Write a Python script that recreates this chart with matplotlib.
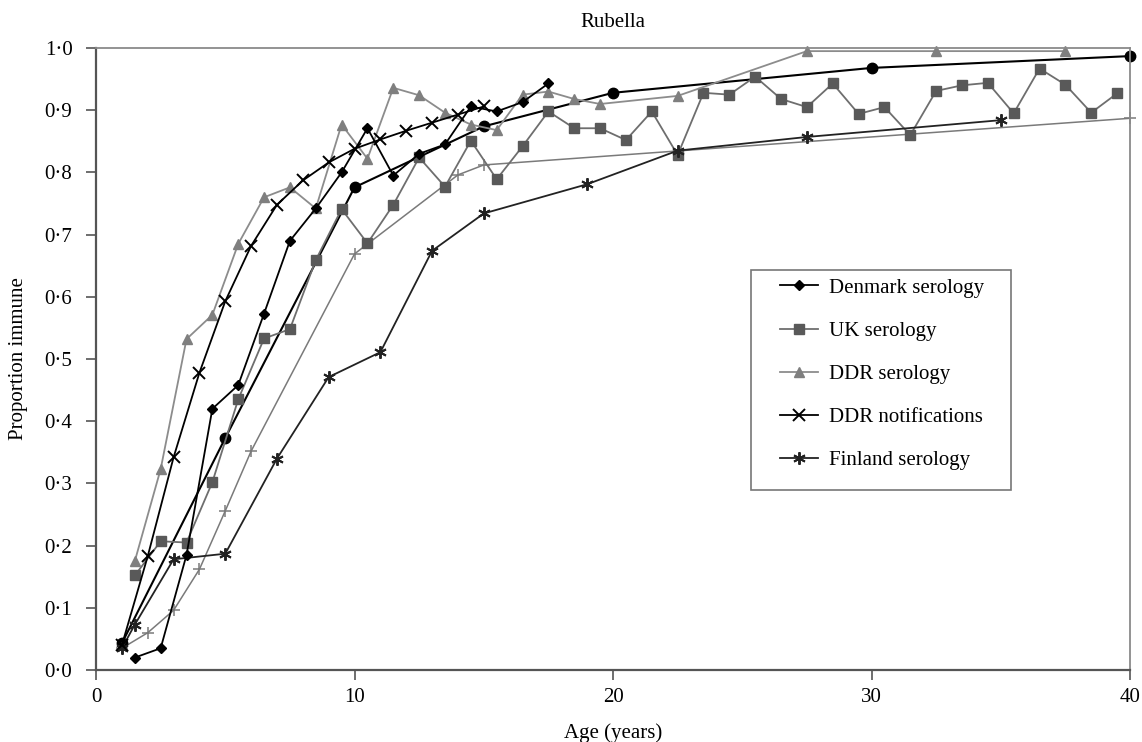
import matplotlib.pyplot as plt
from matplotlib.patches import Rectangle
from matplotlib.ticker import FuncFormatter

plt.rcParams['font.family'] = ['Liberation Serif', 'DejaVu Serif']

# age (years) and proportion immune
denmark_age = [1.5, 2.5, 3.5, 4.5, 5.5, 6.5, 7.5, 8.5, 9.5, 10.5, 11.5, 12.5,
               13.5, 14.5, 15.5, 16.5, 17.5]
denmark = [0.02, 0.035, 0.185, 0.42, 0.458, 0.573, 0.69, 0.742, 0.80, 0.871,
           0.795, 0.83, 0.845, 0.906, 0.898, 0.913, 0.943]

uk_age = [a + 0.5 for a in range(1, 40)]
uk = [0.152, 0.207, 0.205, 0.302, 0.435, 0.533, 0.548, 0.659, 0.741, 0.686,
      0.748, 0.824, 0.777, 0.851, 0.789, 0.842, 0.898, 0.871, 0.871, 0.852,
      0.898, 0.828, 0.928, 0.925, 0.954, 0.918, 0.905, 0.943, 0.894, 0.905,
      0.860, 0.931, 0.940, 0.944, 0.895, 0.967, 0.941, 0.896, 0.927]

ddr_sero_age = [1.5, 2.5, 3.5, 4.5, 5.5, 6.5, 7.5, 8.5, 9.5, 10.5, 11.5, 12.5,
                13.5, 14.5, 15.5, 16.5, 17.5, 18.5, 19.5, 22.5, 27.5, 32.5, 37.5]
ddr_sero = [0.175, 0.323, 0.532, 0.571, 0.685, 0.76, 0.776, 0.742, 0.877,
            0.822, 0.936, 0.924, 0.896, 0.877, 0.868, 0.925, 0.93, 0.918,
            0.91, 0.923, 0.995, 0.995, 0.995]

ddr_notif_age = list(range(1, 16))
ddr_notif = [0.04, 0.183, 0.342, 0.478, 0.593, 0.682, 0.748, 0.787, 0.816,
             0.838, 0.853, 0.867, 0.88, 0.893, 0.906]

finland_age = [1, 1.5, 3, 5, 7, 9, 11, 13, 15, 19, 22.5, 27.5, 35]
finland = [0.035, 0.073, 0.178, 0.187, 0.34, 0.471, 0.511, 0.674, 0.734,
           0.781, 0.835, 0.857, 0.884]

# unlabelled series in the original
circle_age = [1, 5, 10, 15, 20, 30, 40]
circle_vals = [0.043, 0.373, 0.776, 0.874, 0.928, 0.968, 0.987]

plus_age = [1, 2, 3, 4, 5, 6, 10, 14, 15, 40]
plus_vals = [0.035, 0.06, 0.096, 0.162, 0.256, 0.352, 0.669, 0.796, 0.812, 0.887]

fig = plt.figure(figsize=(11.42, 7.42), dpi=100)
ax = fig.add_axes([0.0841, 0.0970, 0.9054, 0.8383])

lw = 1.3
ax.plot(plus_age, plus_vals, '-', color='#7a7a7a', lw=1.1, marker='+',
        ms=9, mew=1.1, clip_on=False)
ax.plot(circle_age, circle_vals, '-', color='black', lw=1.5, marker='o',
        ms=7.5, clip_on=False)
ax.plot(uk_age, uk, '-', color='#6e6e6e', lw=lw, marker='s', ms=7,
        mfc='#595959', mec='#595959', label='UK serology', clip_on=False)
ax.plot(ddr_sero_age, ddr_sero, '-', color='#8c8c8c', lw=lw, marker='^',
        ms=7, mfc='#7f7f7f', mec='#7f7f7f', label='DDR serology', clip_on=False)
ax.plot(finland_age, finland, '-', color='#222222', lw=lw, marker=(6, 2, 0),
        ms=9, mew=1.4, mec='#222222', label='Finland serology', clip_on=False)
ax.plot(ddr_notif_age, ddr_notif, '-', color='black', lw=lw, marker='x',
        ms=8, mew=1.4, label='DDR notifications', clip_on=False)
ax.plot(denmark_age, denmark, '-', color='black', lw=lw, marker='D',
        ms=5.5, label='Denmark serology', clip_on=False)

ax.set_xlim(0, 40)
ax.set_ylim(0, 1)
ax.set_xticks([0, 10, 20, 30, 40])
ax.set_yticks([i / 10 for i in range(11)])
ax.yaxis.set_major_formatter(FuncFormatter(lambda v, p: f"{v:.1f}".replace('.', '\u00b7')))
ax.tick_params(direction='out', length=7, width=1.2, color='#555555',
               labelsize=15, pad=6)
ax.tick_params(axis='y', pad=10)

for side in ['left', 'bottom']:
    ax.spines[side].set_color('#555555')
    ax.spines[side].set_linewidth(1.6)
for side in ['top', 'right']:
    ax.spines[side].set_color('#8a8a8a')
    ax.spines[side].set_linewidth(1.3)

ax.set_title('Rubella', fontsize=15, pad=15)
ax.set_xlabel('Age (years)', fontsize=15, labelpad=12)
ax.set_ylabel('Proportion immune', fontsize=15, labelpad=12)

# legend: box drawn separately, entries without frame
box = Rectangle((0.6335, 0.289), 0.2515, 0.354, transform=ax.transAxes,
                fill=True, facecolor='white', edgecolor='#777777', lw=1.2,
                zorder=5)
ax.add_patch(box)
h, l = ax.get_legend_handles_labels()
order = ['Denmark serology', 'UK serology', 'DDR serology',
         'DDR notifications', 'Finland serology']
hl = dict(zip(l, h))
leg = ax.legend([hl[k] for k in order], order, loc='upper left',
                bbox_to_anchor=(0.6615, 0.630), borderaxespad=0, borderpad=0,
                frameon=False, fontsize=15, handlelength=1.83,
                handletextpad=0.53, labelspacing=1.13, numpoints=1)
leg.set_zorder(6)

fig.savefig('out.png', dpi=100)
